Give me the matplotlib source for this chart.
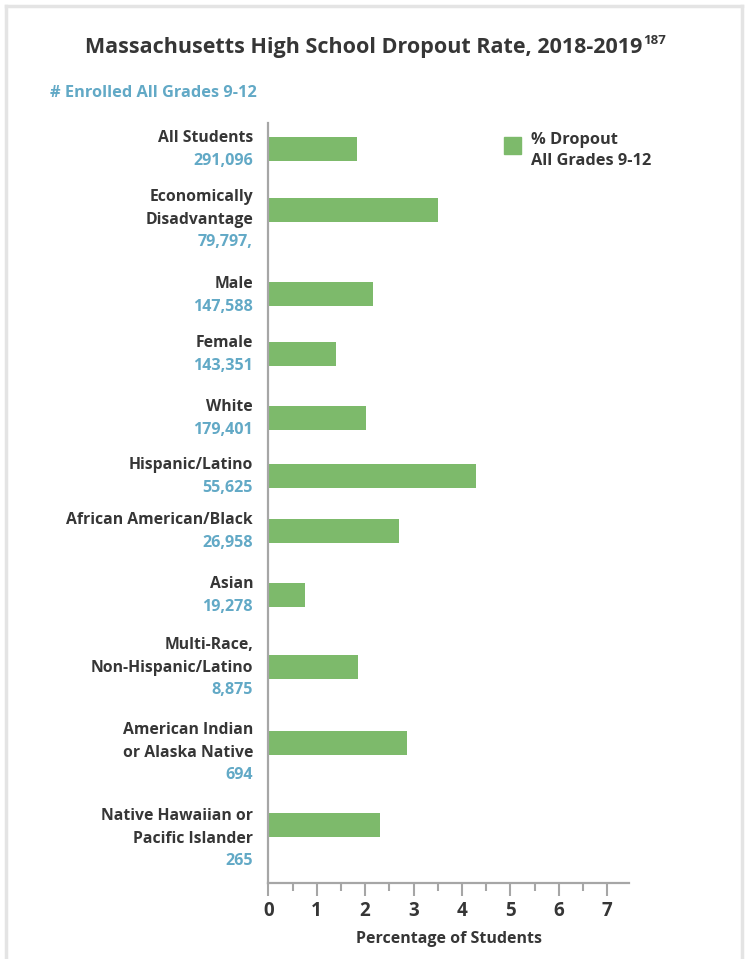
import matplotlib.pyplot as plt
import matplotlib.transforms as mtransforms
from matplotlib.lines import Line2D
from matplotlib.patches import Rectangle

plt.rcParams['font.family'] = ['Open Sans', 'DejaVu Sans']

# data
groups = [
    ['All Students'],
    ['Economically', 'Disadvantage'],
    ['Male'],
    ['Female'],
    ['White'],
    ['Hispanic/Latino'],
    ['African American/Black'],
    ['Asian'],
    ['Multi-Race,', 'Non-Hispanic/Latino'],
    ['American Indian', 'or Alaska Native'],
    ['Native Hawaiian or', 'Pacific Islander'],
]
enrolled = ['291,096', '79,797,', '147,588', '143,351', '179,401', '55,625',
            '26,958', '19,278', '8,875', '694', '265']
dropout = [1.84, 3.50, 2.16, 1.40, 2.01, 4.28, 2.69, 0.76, 1.85, 2.86, 2.30]

# layout (pixel rows of the original graphic)
row_y = [149, 210, 294, 354, 418, 476, 531, 595, 667, 743, 825]
label_shift = [-11, -13, -10, -11, -11, -11, -11, -11, -22, -13, -9]

DARK = '#363636'
BLUE = '#62a9c6'
GREEN = '#7dba6b'
GRAY = '#a6a6a6'

W, H = 749, 959
fig = plt.figure(figsize=(W / 100, H / 100), dpi=100)


def fx(px):
    return px / W


def fy(py):
    return 1 - py / H


# light frame around the graphic
for xs, ys in [([6, 6], [6, 959]), ([6, 742], [6, 6]), ([742, 742], [6, 959])]:
    fig.add_artist(Line2D([fx(x) for x in xs], [fy(y) for y in ys],
                          color='#e4e4e4', lw=2.5, transform=fig.transFigure))

ax = fig.add_axes([fx(268.3), fy(883), fx(629) - fx(268.3), fy(123) - fy(883)])
ax.barh(row_y, dropout, height=24, color=GREEN, zorder=2)
ax.set_xlim(0, 7.45)
ax.set_ylim(883, 123)

for s in ['top', 'right']:
    ax.spines[s].set_visible(False)
for s in ['left', 'bottom']:
    ax.spines[s].set_color(GRAY)
    ax.spines[s].set_linewidth(1.6)
ax.spines['left'].set_zorder(3)

ax.set_yticks([])
ax.set_xticks(range(8))
ax.set_xticks([i + 0.5 for i in range(7)], minor=True)
ax.tick_params(axis='x', which='major', length=9, width=1.5, color=GRAY,
               labelsize=13.5, labelcolor=DARK, pad=4)
ax.tick_params(axis='x', which='minor', length=5.5, width=1.5, color=GRAY)
for lab in ax.get_xticklabels():
    lab.set_fontweight('bold')
ax.set_xlabel('Percentage of Students', fontsize=11.5, fontweight='bold',
              color=DARK, labelpad=7)

# category labels with enrolment numbers
trans = mtransforms.blended_transform_factory(fig.transFigure, ax.transData)
for lines, num, y, sh in zip(groups, enrolled, row_y, label_shift):
    top = y + sh
    for i, line in enumerate(lines):
        ax.text(fx(253), top + i * 22.5, line, transform=trans, ha='right',
                va='center', fontsize=11.3, fontweight='bold', color=DARK)
    ax.text(fx(253), top + len(lines) * 22.5, num, transform=trans, ha='right',
            va='center', fontsize=11.6, fontweight='bold', color=BLUE)

# title and header
title = fig.text(fx(85), fy(47), 'Massachusetts High School Dropout Rate, 2018-2019',
                 ha='left', va='center', fontsize=15.5, fontweight='bold', color=DARK)
fig.canvas.draw()
bb = title.get_window_extent()
fig.text(bb.x1 / W + 0.001, fy(41), '187', ha='left', va='center', fontsize=9.5,
         fontweight='bold', color=DARK)
fig.text(fx(50), fy(93), '# Enrolled All Grades 9-12', ha='left', va='center',
         fontsize=11.8, fontweight='bold', color=BLUE)

# legend
fig.add_artist(Rectangle((fx(504), fy(154)), fx(17), fy(137) - fy(154),
                         color=GREEN, transform=fig.transFigure))
fig.text(fx(531), fy(140), '% Dropout', ha='left', va='center', fontsize=11.8,
         fontweight='bold', color=DARK)
fig.text(fx(531), fy(161), 'All Grades 9-12', ha='left', va='center',
         fontsize=11.8, fontweight='bold', color=DARK)

fig.savefig('out.png', dpi=100)
